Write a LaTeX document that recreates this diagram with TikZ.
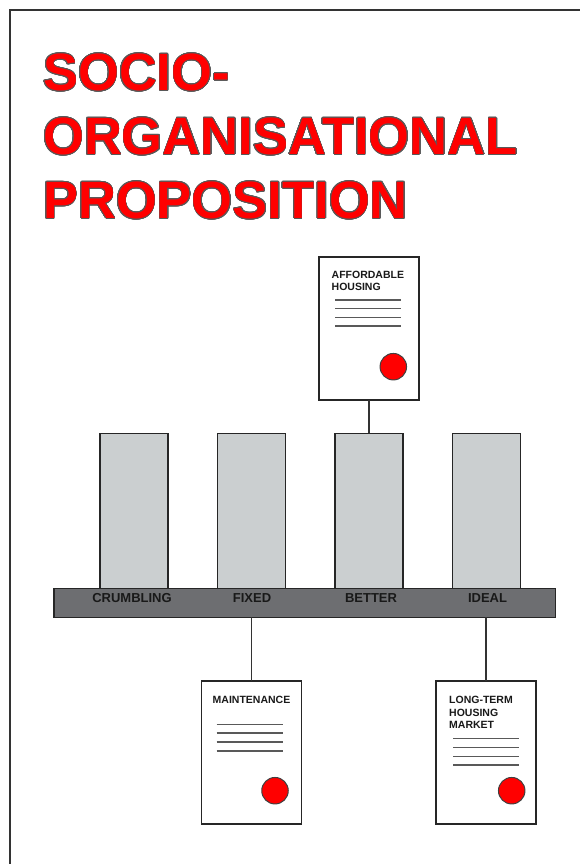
\documentclass[tikz,border=0pt]{standalone}
\usepackage{fontspec}
\setmainfont{Liberation Sans}
\usepackage{contour}
\contourlength{0.55pt}
\contournumber{32}
\definecolor{pillargray}{HTML}{CBCFD0}
\definecolor{basegray}{HTML}{6D6E71}
\definecolor{sealred}{HTML}{FF0000}
\tikzset{
  frameline/.style={draw=black!80, line width=2pt},
  titletext/.style={font=\bfseries\fontsize{52.5}{64}\selectfont, text=sealred, inner sep=0, anchor=base west},
  docbox/.style={draw=black!85, line width=1.2pt, fill=white, minimum width=100pt, minimum height=143pt, inner sep=0, outer sep=0, anchor=north west},
  docline/.style={draw=black!65, line width=1.3pt},
  seal/.style={circle, draw=black!75, line width=1pt, fill=sealred, minimum size=26.5pt, inner sep=0, outer sep=0},
  doctext/.style={font=\bfseries\fontsize{10.5}{12}\selectfont, inner sep=0, anchor=base west, text=black!90},
  pillar/.style={draw=black!85, line width=1.2pt, fill=pillargray, minimum width=68pt, minimum height=155pt, inner sep=0, outer sep=0, anchor=north west},
  basebar/.style={draw=black!85, line width=1.2pt, fill=basegray, minimum width=501.7pt, minimum height=29pt, inner sep=0, outer sep=0, anchor=north west},
  barlabel/.style={font=\bfseries\fontsize{13}{15}\selectfont, inner sep=0, anchor=base, text=black!90},
  connector/.style={draw=black!80, line width=1.2pt}
}
\begin{document}
\begin{tikzpicture}[x=1pt,y=-1pt]
\useasboundingbox (0,0) rectangle (579,864);
\fill[white] (0,0) rectangle (579,864);
% outer frame (extends past the right and bottom edges)
\draw[frameline] (10,900) -- (10,10) -- (620,10);
% title
\node[titletext] (t1) at (43,90.5) {\contour{black!65}{SOCIO-}};
\node[titletext] (t2) at (43,154.5) {\contour{black!65}{ORGANISATIONAL}};
\node[titletext] (t3) at (43,218.5) {\contour{black!65}{PROPOSITION}};
% pillars
\node[pillar] (b1) at (100,433.3) {};
\node[pillar] (b2) at (217.3,433.3) {};
\node[pillar] (b3) at (335,433.3) {};
\node[pillar] (b4) at (452.5,433.3) {};
% base bar
\node[basebar] (base) at (54,588.3) {};
\node[barlabel] (l1) at (132,602.5) {CRUMBLING};
\node[barlabel] (l2) at (252,602.5) {FIXED};
\node[barlabel] (l3) at (371,602.5) {BETTER};
\node[barlabel] (l4) at (487.5,602.5) {IDEAL};
% affordable housing
\node[docbox] (ah) at (319,257) {};
\node[doctext] (ah1) at (331.5,278.3) {AFFORDABLE};
\node[doctext] (ah2) at (331.5,290) {HOUSING};
\foreach \yy in {300,308.7,317.3,326} \draw[docline] (335,\yy) -- (401,\yy);
\node[seal] (ahs) at (393.3,366.7) {};
% maintenance
\node[docbox] (mt) at (201.3,681) {};
\node[doctext, anchor=base] (mt1) at (251.5,703.3) {MAINTENANCE};
\foreach \yy in {724.3,733,742,751} \draw[docline] (216.7,\yy) -- (282.7,\yy);
\node[seal] (mts) at (275,790.7) {};
% long-term housing market
\node[docbox] (lt) at (436,681) {};
\node[doctext] (lt1) at (449,703.3) {LONG-TERM};
\node[doctext] (lt2) at (449,716) {HOUSING};
\node[doctext] (lt3) at (449,728.7) {MARKET};
\foreach \yy in {738.7,747.3,756.3,765} \draw[docline] (453.3,\yy) -- (519.3,\yy);
\node[seal] (lts) at (511.7,790.7) {};
% connectors
\draw[connector] (ah.south) -- (ah.south |- b3.north);
\draw[connector] (mt.north) -- (mt.north |- base.south);
\draw[connector] (lt.north) -- (lt.north |- base.south);
\end{tikzpicture}
\end{document}
